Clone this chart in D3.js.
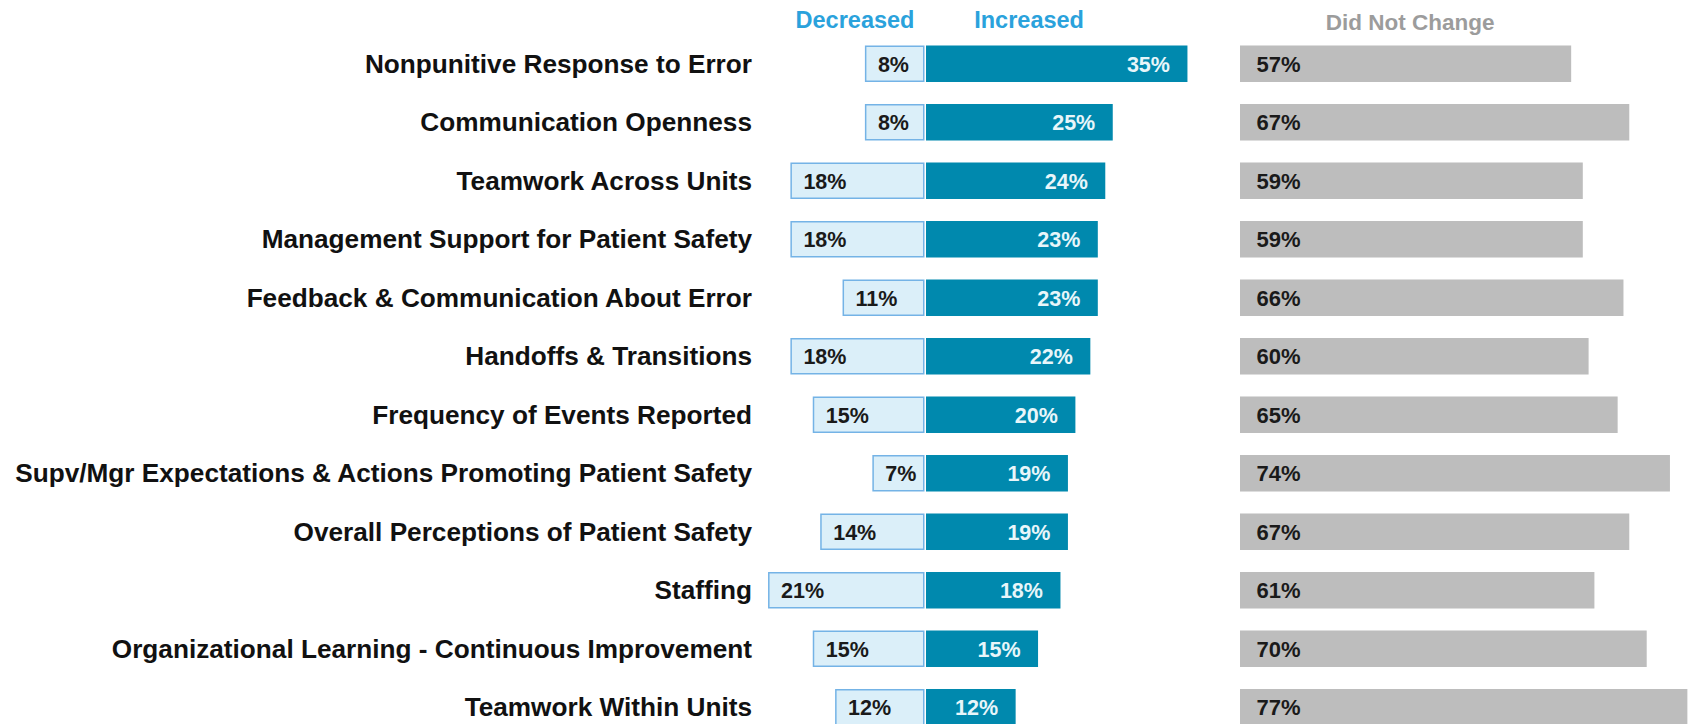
<!DOCTYPE html>
<html>
<head>
<meta charset="utf-8">
<script src="https://cdn.jsdelivr.net/npm/d3@7"></script>
<style>
  html, body { margin: 0; padding: 0; background: #ffffff; }
  svg { display: block; font-family: "Liberation Sans", Arial, sans-serif; }
</style>
</head>
<body>
<svg id="chart" width="1691" height="724"></svg>
<script>
const categories = [
  "Nonpunitive Response to Error",
  "Communication Openness",
  "Teamwork Across Units",
  "Management Support for Patient Safety",
  "Feedback & Communication About Error",
  "Handoffs & Transitions",
  "Frequency of Events Reported",
  "Supv/Mgr Expectations & Actions Promoting Patient Safety",
  "Overall Perceptions of Patient Safety",
  "Staffing",
  "Organizational Learning - Continuous Improvement",
  "Teamwork Within Units"
];
const decreased = [8, 8, 18, 18, 11, 18, 15, 7, 14, 21, 15, 12];
const increased = [35, 25, 24, 23, 23, 22, 20, 19, 19, 18, 15, 12];
const noChange  = [57, 67, 59, 59, 66, 60, 65, 74, 67, 61, 70, 77];
const headers = ["Decreased", "Increased", "Did Not Change"];

const svg = d3.select("#chart");

const y = d3.scaleBand()
  .domain(categories)
  .range([34.5, 34.5 + 12 * 58.5])
  .paddingInner(0.376)
  .paddingOuter(0.188);

const xInc = d3.scaleLinear().domain([0, 40]).range([926, 926 + 40 * 7.47]);
const xDec = d3.scaleLinear().domain([0, 40]).range([924.5, 924.5 - 40 * 7.45]);
const xNC  = d3.scaleLinear().domain([0, 80]).range([1240, 1240 + 80 * 5.81]);

const rows = categories.map((c, i) => ({
  cat: c, dec: decreased[i], inc: increased[i], nc: noChange[i]
}));

// Headers
svg.append("text")
  .attr("x", (xDec(0) + xDec(16.5)) / 2 - 8).attr("y", 28)
  .attr("text-anchor", "middle")
  .attr("font-size", 23.5).attr("font-weight", "bold")
  .attr("fill", "#2aa2dc")
  .text(headers[0]);
svg.append("text")
  .attr("x", xInc(13.8)).attr("y", 28)
  .attr("text-anchor", "middle")
  .attr("font-size", 23.5).attr("font-weight", "bold")
  .attr("fill", "#2aa2dc")
  .text(headers[1]);
svg.append("text")
  .attr("x", xNC(29.3)).attr("y", 30)
  .attr("text-anchor", "middle")
  .attr("font-size", 22.5).attr("font-weight", "bold")
  .attr("fill", "#9c9c9c")
  .text(headers[2]);

// Category labels
svg.append("g").selectAll("text")
  .data(rows).join("text")
  .attr("x", 752)
  .attr("y", d => y(d.cat) + y.bandwidth() / 2)
  .attr("dy", "0.34em")
  .attr("text-anchor", "end")
  .attr("font-size", 26.2).attr("font-weight", "bold")
  .attr("fill", "#111111")
  .text(d => d.cat);

// Decreased bars
svg.append("g").selectAll("rect")
  .data(rows).join("rect")
  .attr("x", d => xDec(d.dec) + 0.75)
  .attr("y", d => y(d.cat) + 0.75)
  .attr("width", d => xDec(0) - xDec(d.dec) - 1.5)
  .attr("height", y.bandwidth() - 1.5)
  .attr("fill", "#dbeff9")
  .attr("stroke", "#74b3e6")
  .attr("stroke-width", 1.5);

svg.append("g").selectAll("text")
  .data(rows).join("text")
  .attr("x", d => xDec(d.dec) + 13)
  .attr("y", d => y(d.cat) + y.bandwidth() / 2)
  .attr("dy", "0.37em")
  .attr("font-size", 21.5).attr("font-weight", "bold")
  .attr("fill", "#1a1a1a")
  .text(d => d.dec + "%");

// Increased bars
svg.append("g").selectAll("rect")
  .data(rows).join("rect")
  .attr("x", xInc(0))
  .attr("y", d => y(d.cat))
  .attr("width", d => xInc(d.inc) - xInc(0))
  .attr("height", y.bandwidth())
  .attr("fill", "#0089ae");

svg.append("g").selectAll("text")
  .data(rows).join("text")
  .attr("x", d => xInc(d.inc) - 17.5)
  .attr("y", d => y(d.cat) + y.bandwidth() / 2)
  .attr("dy", "0.37em")
  .attr("text-anchor", "end")
  .attr("font-size", 21.5).attr("font-weight", "bold")
  .attr("fill", "#e8f6fa")
  .text(d => d.inc + "%");

// Did not change bars
svg.append("g").selectAll("rect")
  .data(rows).join("rect")
  .attr("x", xNC(0))
  .attr("y", d => y(d.cat))
  .attr("width", d => xNC(d.nc) - xNC(0))
  .attr("height", y.bandwidth())
  .attr("fill", "#bdbdbd");

svg.append("g").selectAll("text")
  .data(rows).join("text")
  .attr("x", xNC(0) + 16.5)
  .attr("y", d => y(d.cat) + y.bandwidth() / 2)
  .attr("dy", "0.37em")
  .attr("font-size", 22).attr("font-weight", "bold")
  .attr("fill", "#1a1a1a")
  .text(d => d.nc + "%");
</script>
</body>
</html>
